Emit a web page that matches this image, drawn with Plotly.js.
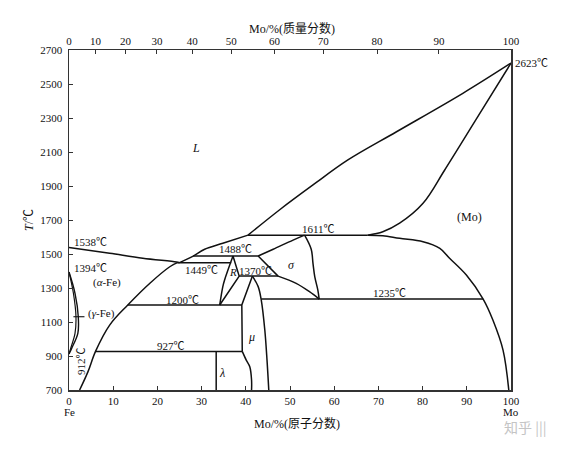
<!DOCTYPE html>
<html>
<head>
<meta charset="utf-8">
<script src="https://cdn.plot.ly/plotly-3.0.1.min.js"></script>
<style>html,body{margin:0;padding:0;background:#fff;}#chart{width:567px;height:449px;}</style>
</head>
<body>
<div id="chart"></div>
<script>
// ---------- data (x = Mo at.%, T = °C) ----------
const tempTicks = [700, 900, 1100, 1300, 1500, 1700, 1900, 2100, 2300, 2500, 2700];
const atTicks = [0, 10, 20, 30, 40, 50, 60, 70, 80, 90, 100];
const massTickLabels = ['0', '10', '20', '30', '40', '50', '60', '70', '80', '90', '100'];
const massTickPos = [0, 6.0, 12.8, 19.9, 27.9, 36.7, 46.5, 57.5, 69.7, 83.7, 100];

const liqFeX = [0, 9.2, 16.7, 24.3, 25.0];
const liqFeT = [1538, 1504, 1475, 1453, 1449];
const alphaX = [2.4, 4.3, 6.0, 9.2, 13.3, 18.3, 22.8, 24.5];
const alphaT = [700, 808, 927, 1082, 1200, 1328, 1425, 1449];
const liqMidX = [25.0, 28.1, 30.7, 34.8, 40.5];
const liqMidT = [1449, 1488, 1528, 1563, 1611];
const liqUpX = [40.5, 47.6, 55.2, 63.1, 74.1, 89.1, 100];
const liqUpT = [1611, 1759, 1906, 2053, 2219, 2445, 2623];
const solMoX = [67.6, 71.0, 74.8, 80.1, 85.0, 92.0, 100];
const solMoT = [1611, 1631, 1681, 1798, 1994, 2287, 2623];
const solvMoX = [67.6, 71.0, 74.8, 80.1, 83.9, 86.1, 89.9, 93.7, 95.9, 98.2, 99.5];
const solvMoT = [1611, 1608, 1592, 1572, 1533, 1475, 1376, 1235, 1112, 935, 700];

const sigLeftX = [42.8, 46.2, 50.7, 53.3];
const sigLeftT = [1488, 1528, 1582, 1611];
const sigRightX = [53.3, 54.8, 55.2, 55.6, 56.3, 56.6];
const sigRightT = [1611, 1528, 1445, 1367, 1288, 1235];
const sigDiagX = [42.8, 47.3];
const sigDiagT = [1488, 1370];
const sigLowX = [47.3, 51.4, 54.4, 56.6];
const sigLowT = [1370, 1327, 1278, 1235];

const rLeftX = [37.1, 35.2, 34.8, 34.1];
const rLeftT = [1488, 1347, 1308, 1200];
const rRightX = [37.1, 38.5, 34.1];
const rRightT = [1488, 1370, 1200];

const muLeftUpX = [41.5, 40.4, 39.1, 39.2];
const muLeftUpT = [1370, 1288, 1200, 927];
const muLeftLowX = [39.2, 40.1, 40.9, 41.3, 41.3];
const muLeftLowT = [927, 876, 837, 759, 700];
const muRightX = [41.5, 42.8, 43.5, 44.3, 44.8, 45.2];
const muRightT = [1370, 1308, 1229, 1053, 876, 700];
const lambdaX = [33.3, 33.3];
const lambdaT = [927, 700];

const isoT = [1611, 1488, 1449, 1370, 1235, 1200, 927];
const isoX0 = [40.5, 28.1, 24.5, 38.5, 43.5, 13.3, 6.0];
const isoX1 = [67.6, 42.8, 36.7, 47.3, 93.7, 39.1, 39.2];

const gamOutX = [0, 1.36, 2.1, 2.0, 0.6, 0];
const gamOutT = [1394, 1269, 1131, 1033, 945, 912];
const gamInX = [0, 1.0, 1.58, 1.36, 0.38, 0];
const gamInT = [1394, 1269, 1131, 1033, 945, 912];
const leaderX = [1.0, 3.5];
const leaderT = [1131, 1131];

// ---------- traces ----------
const black = '#111';
function curve(x, y, shape, w) {
  return {x: x, y: y, type: 'scatter', mode: 'lines', hoverinfo: 'skip', showlegend: false,
    line: {color: black, width: w || 1.5, shape: shape || 'spline', smoothing: 1}};
}
const traces = [
  curve(liqFeX, liqFeT),
  curve(alphaX, alphaT),
  curve(liqMidX, liqMidT),
  curve(liqUpX, liqUpT),
  curve(solMoX, solMoT),
  curve(solvMoX, solvMoT),
  curve(sigLeftX, sigLeftT),
  curve(sigRightX, sigRightT),
  curve(sigDiagX, sigDiagT, 'linear'),
  curve(sigLowX, sigLowT),
  curve(rLeftX, rLeftT),
  curve(rRightX, rRightT, 'linear'),
  curve(muLeftUpX, muLeftUpT, 'linear'),
  curve(muLeftLowX, muLeftLowT),
  curve(muRightX, muRightT),
  curve(lambdaX, lambdaT, 'linear'),
  curve(gamOutX, gamOutT, 'spline', 1.4),
  curve(gamInX, gamInT, 'spline', 1.2),
  curve(leaderX, leaderT, 'linear', 1.1)
];
for (let i = 0; i < isoT.length; i++) {
  traces.push(curve([isoX0[i], isoX1[i]], [isoT[i], isoT[i]], 'linear'));
}
// dummy trace for top (mass %) axis
traces.push({x: [0, 100], y: [700, 700], xaxis: 'x2', type: 'scatter', mode: 'lines',
  line: {width: 0, color: 'rgba(0,0,0,0)'}, hoverinfo: 'skip', showlegend: false});

// ---------- labels ----------
const F = 'Liberation Serif, Times New Roman, Noto Sans CJK SC, serif';
function lab(x, y, text, opt) {
  return Object.assign({x: x, y: y, xref: 'x', yref: 'y', text: text, showarrow: false,
    font: {family: F, size: 11, color: '#111'}, xanchor: 'center', yanchor: 'middle'}, opt || {});
}
function plab(x, y, text, opt) {
  return Object.assign({x: x, y: y, xref: 'paper', yref: 'paper', text: text, showarrow: false,
    font: {family: F, size: 12, color: '#111'}, xanchor: 'center', yanchor: 'middle'}, opt || {});
}
const annotations = [
  lab(0.6, 1572, '1538℃', {xanchor: 'left'}),
  lab(0.6, 1416, '1394℃', {xanchor: 'left'}),
  lab(8.6, 1335, '(<i>α</i>-Fe)'),
  lab(7.3, 1151, '(<i>γ</i>-Fe)'),
  lab(2.7, 870, '912℃', {textangle: -90}),
  lab(30.0, 1406, '1449℃'),
  lab(37.7, 1529, '1488℃'),
  lab(42.2, 1400, '1370℃'),
  lab(56.5, 1650, '1611℃'),
  lab(25.7, 1232, '1200℃'),
  lab(23.0, 956, '927℃'),
  lab(72.5, 1269, '1235℃'),
  lab(28.7, 2124, '<i>L</i>', {font: {family: F, size: 12, color: '#111'}}),
  lab(90.6, 1718, '(Mo)', {font: {family: F, size: 12, color: '#111'}}),
  lab(50.3, 1435, '<i>σ</i>', {font: {family: F, size: 12, color: '#111'}}),
  lab(37.1, 1392, '<i>R</i>'),
  lab(41.3, 1014, '<i>μ</i>', {font: {family: F, size: 12, color: '#111'}}),
  lab(34.7, 802, '<i>λ</i>', {font: {family: F, size: 12, color: '#111'}}),
  plab(1.004, 0.961, '2623℃', {xanchor: 'left', font: {family: F, size: 11, color: '#111'}}),
  plab(0.002, -0.066, 'Fe', {font: {family: F, size: 11, color: '#111'}}),
  plab(1.0, -0.066, 'Mo', {font: {family: F, size: 11, color: '#111'}}),
  plab(0.515, -0.099, 'Mo/%(原子分数)'),
  plab(0.505, 1.064, 'Mo/%(质量分数)'),
  plab(1.031, -0.109, '知乎 |||', {font: {family: 'Noto Sans CJK SC', size: 14, color: '#c4c4c4'}})
];

const tickFont = {family: F, size: 11, color: '#111'};
const layout = {
  width: 567, height: 449,
  margin: {l: 69, r: 56, t: 50, b: 59, pad: 0},
  paper_bgcolor: '#fff', plot_bgcolor: '#fff',
  showlegend: false,
  xaxis: {
    range: [0, 100], tickvals: atTicks, ticktext: atTicks.map(String),
    ticks: 'inside', ticklen: 4, tickwidth: 1, tickcolor: '#333',
    showgrid: false, zeroline: false, showline: true, linecolor: '#333', linewidth: 1.5, mirror: true,
    tickfont: tickFont, ticklabelstandoff: 0
  },
  xaxis2: {
    overlaying: 'x', side: 'top', range: [0, 100], tickvals: massTickPos, ticktext: massTickLabels,
    ticks: 'inside', ticklen: 4, tickwidth: 1, tickcolor: '#333',
    showgrid: false, zeroline: false, showline: false, tickfont: tickFont, ticklabelstandoff: 2
  },
  yaxis: {
    range: [700, 2700], tickvals: tempTicks, ticktext: tempTicks.map(String),
    ticks: 'inside', ticklen: 4, tickwidth: 1, tickcolor: '#333',
    showgrid: false, zeroline: false, showline: true, linecolor: '#333', linewidth: 1.5, mirror: true,
    tickfont: tickFont, ticklabelstandoff: 3,
    title: {text: '<i>T</i>/℃', font: {family: F, size: 12, color: '#111'}, standoff: 4}
  },
  annotations: annotations
};

Plotly.newPlot('chart', traces, layout, {staticPlot: true, displayModeBar: false});
</script>
</body>
</html>
